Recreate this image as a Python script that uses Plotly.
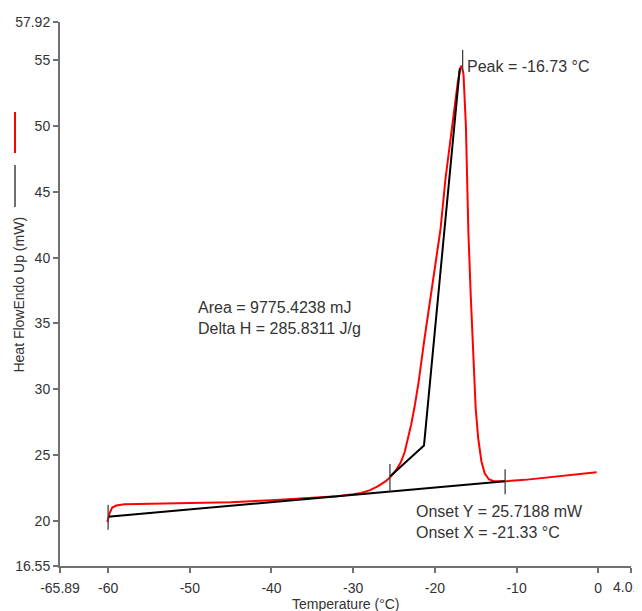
import plotly.graph_objects as go

# Red DSC heat-flow curve (temperature °C, heat flow mW)
temp = [-60.1, -59.8, -59.5, -59.0, -58.0, -55.0, -50.0, -45.0, -40.0, -35.0, -32.0,
        -30.0, -29.0, -28.0, -27.0, -26.0, -25.4, -24.8, -24.2, -23.7, -23.3, -22.9,
        -22.5, -22.0, -21.3, -20.5, -19.9, -19.3, -18.7, -18.1, -17.6, -17.2, -16.9,
        -16.75, -16.5, -16.35, -16.2, -16.05, -15.9, -15.6, -15.3, -15.0, -14.7, -14.3,
        -13.9, -13.4, -12.8, -12.0, -11.3, -9.0, -6.0, -3.0, -0.2]
heat_flow = [19.9, 20.6, 21.0, 21.15, 21.25, 21.28, 21.32, 21.4, 21.55, 21.72, 21.85,
             22.0, 22.1, 22.3, 22.6, 23.0, 23.35, 23.8, 24.4, 25.2, 26.2, 27.3,
             28.6, 30.5, 33.7, 37.0, 39.7, 42.2, 46.0, 49.0, 51.5, 53.3, 54.4,
             54.6, 54.0, 52.0, 50.0, 46.0, 42.0, 37.0, 32.0, 28.5, 26.3, 24.5,
             23.6, 23.15, 23.0, 22.98, 23.0, 23.1, 23.3, 23.45, 23.68]

# Black baseline and leading-edge tangent
baseline_x = [-60.0, -11.4]
baseline_y = [20.3, 23.0]
tangent_x = [-25.5, -21.33, -16.95]
tangent_y = [23.35, 25.72, 54.4]

# Short vertical marker ticks (x, low y, high y)
marker_x = [-60.0, -25.5, -11.4, -16.6]
marker_lo = [19.3, 22.2, 22.0, 54.1]
marker_hi = [21.2, 24.3, 23.9, 55.8]

# Axis ticks (the last x label is drawn as an annotation so it stays inside the page)
x_ticks = [-65.89, -60, -50, -40, -30, -20, -10, 0, 4.01]
x_tick_labels = ["-65.89", "-60", "-50", "-40", "-30", "-20", "-10", "0", "4.01"]
y_ticks = [16.55, 20, 25, 30, 35, 40, 45, 50, 55, 57.92]
y_tick_labels = ["16.55", "20", "25", "30", "35", "40", "45", "50", "55", "57.92"]

FONT = "Liberation Sans, Arial, sans-serif"
TXT = "#333333"

fig = go.Figure()

mx, my = [], []
for x, lo, hi in zip(marker_x, marker_lo, marker_hi):
    mx += [x, x, None]
    my += [lo, hi, None]

fig.add_trace(go.Scatter(x=temp, y=heat_flow, mode="lines",
                         line=dict(color="#ff0000", width=2), hoverinfo="skip"))
fig.add_trace(go.Scatter(x=baseline_x, y=baseline_y, mode="lines",
                         line=dict(color="#000000", width=2), hoverinfo="skip"))
fig.add_trace(go.Scatter(x=tangent_x, y=tangent_y, mode="lines",
                         line=dict(color="#000000", width=2), hoverinfo="skip"))
fig.add_trace(go.Scatter(x=mx, y=my, mode="lines",
                         line=dict(color="#404040", width=1.3), hoverinfo="skip"))

# page body has an 8px default margin, so the figure is offset by 8px
fig.update_layout(
    width=634, height=603,
    margin=dict(l=52, r=11, t=14, b=45, autoexpand=False),
    plot_bgcolor="white", paper_bgcolor="white",
    showlegend=False,
    font=dict(family=FONT, size=14, color=TXT),
)
fig.update_xaxes(range=[-65.89, 4.01], tickmode="array", tickvals=x_ticks,
                 ticktext=x_tick_labels[:-1] + [""], showgrid=False, zeroline=False,
                 showline=True, linecolor="#707070", linewidth=2,
                 ticks="outside", ticklen=5, tickcolor="#707070", tickwidth=1.5,
                 ticklabelstandoff=3, ticklabeloverflow="allow", automargin=False,
                 tickfont=dict(family=FONT, size=14, color=TXT))
fig.update_yaxes(range=[16.55, 57.92], tickmode="array", tickvals=y_ticks,
                 ticktext=y_tick_labels, showgrid=False, zeroline=False,
                 showline=True, linecolor="#707070", linewidth=2,
                 ticks="outside", ticklen=5, tickcolor="#707070", tickwidth=1.5,
                 ticklabeloverflow="allow", automargin=False,
                 tickfont=dict(family=FONT, size=14, color=TXT))

# last x tick label, nudged left so it is not clipped
fig.add_annotation(text=x_tick_labels[-1], x=x_ticks[-1], xref="x", yref="paper",
                   y=-0.0386, xanchor="center", yanchor="middle", xshift=-5,
                   showarrow=False, font=dict(family=FONT, size=14, color=TXT))

# Axis titles as annotations
fig.add_annotation(text="Temperature (°C)", xref="paper", yref="paper",
                   x=0.501, y=-0.0699, showarrow=False, xanchor="center", yanchor="middle",
                   font=dict(family=FONT, size=14, color=TXT))
fig.add_annotation(text="Heat FlowEndo Up (mW)", xref="paper", yref="paper",
                   x=-0.0718, y=0.499, showarrow=False, textangle=-90,
                   xanchor="center", yanchor="middle",
                   font=dict(family=FONT, size=14, color=TXT))

# legend-like line glyphs next to the y title
fig.add_shape(type="line", xref="paper", yref="paper", x0=-0.0788, x1=-0.0788,
              y0=0.7592, y1=0.8346, line=dict(color="#ff0000", width=2))
fig.add_shape(type="line", xref="paper", yref="paper", x0=-0.0788, x1=-0.0788,
              y0=0.66, y1=0.737, line=dict(color="#404040", width=1.5))

# Result labels
fig.add_annotation(text="Peak = -16.73 °C", x=-16.35, y=54.5, xref="x", yref="y",
                   showarrow=False, xanchor="left", yanchor="middle",
                   font=dict(family=FONT, size=16, color=TXT))
fig.add_annotation(text="Area = 9775.4238 mJ<br>Delta H = 285.8311 J/g", x=-49.3, y=35.44,
                   xref="x", yref="y", showarrow=False, xanchor="left", yanchor="middle",
                   align="left", font=dict(family=FONT, size=16, color=TXT))
fig.add_annotation(text="Onset Y = 25.7188 mW<br>Onset X = -21.33 °C", x=-22.6, y=19.9,
                   xref="x", yref="y", showarrow=False, xanchor="left", yanchor="middle",
                   align="left", font=dict(family=FONT, size=16, color=TXT))

fig.write_html("out.html")
